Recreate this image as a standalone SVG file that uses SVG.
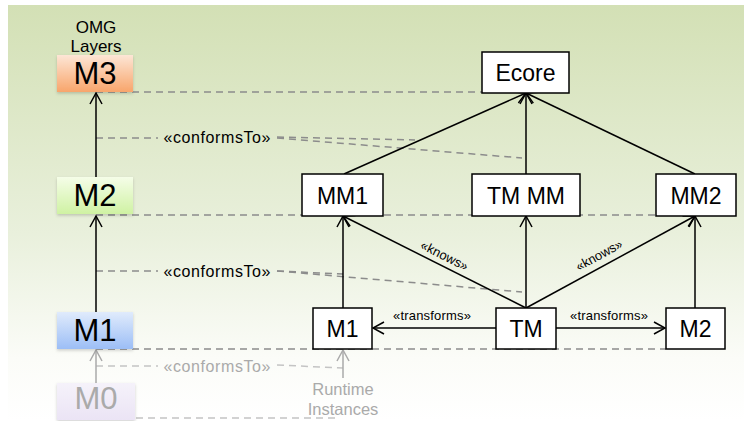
<svg xmlns="http://www.w3.org/2000/svg" width="744" height="421" viewBox="0 0 744 421">
  <defs>
    <linearGradient id="bg" x1="0" y1="0" x2="0" y2="1">
      <stop offset="0" stop-color="#d3e0b5"/>
      <stop offset="0.55" stop-color="#e9f0dc"/>
      <stop offset="0.85" stop-color="#fbfcf8"/>
      <stop offset="1" stop-color="#ffffff"/>
    </linearGradient>
    <linearGradient id="gM3" x1="0" y1="0" x2="0" y2="1">
      <stop offset="0" stop-color="#fde6d6"/>
      <stop offset="1" stop-color="#f8a56b"/>
    </linearGradient>
    <linearGradient id="gM2" x1="0" y1="0" x2="0" y2="1">
      <stop offset="0" stop-color="#f5fde8"/>
      <stop offset="1" stop-color="#cff2a3"/>
    </linearGradient>
    <linearGradient id="gM1" x1="0" y1="0" x2="0" y2="1">
      <stop offset="0" stop-color="#e0ebfc"/>
      <stop offset="1" stop-color="#9cbef6"/>
    </linearGradient>
    <linearGradient id="gM0" x1="0" y1="0" x2="0" y2="1">
      <stop offset="0" stop-color="#f5f2fa"/>
      <stop offset="1" stop-color="#ebe4f5"/>
    </linearGradient>
    <filter id="shadow" x="-20%" y="-20%" width="140%" height="150%">
      <feDropShadow dx="0" dy="1.5" stdDeviation="1.5" flood-color="#000" flood-opacity="0.18"/>
    </filter>
    <marker id="open" markerWidth="14" markerHeight="14" refX="12" refY="7" orient="auto" markerUnits="userSpaceOnUse">
      <path d="M1,1 L12,7 L1,13" fill="none" stroke="#000" stroke-width="1.5"/>
    </marker>
    <marker id="openGrey" markerWidth="14" markerHeight="14" refX="12" refY="7" orient="auto" markerUnits="userSpaceOnUse">
      <path d="M1,1 L12,7 L1,13" fill="none" stroke="#aaaaaa" stroke-width="1.5"/>
    </marker>
  </defs>
  <style>
    text { font-family: "Liberation Sans", Arial, sans-serif; fill: #000; }
    .node rect { fill: #fff; stroke: #000; stroke-width: 1.5; }
    .node text { font-size: 23px; text-anchor: middle; }
    .layer rect { stroke: none; filter: url(#shadow); }
    .layer text { font-size: 31px; text-anchor: middle; }
    .edge { stroke: #000; stroke-width: 1.5; fill: none; marker-end: url(#open); }
    .edgeGrey { stroke: #aaaaaa; stroke-width: 1.5; fill: none; marker-end: url(#openGrey); }
    .dash { stroke: #8c8c8c; stroke-width: 1.5; stroke-dasharray: 7 5; fill: none; }
    .dashGrey { stroke: #c4c4c4; stroke-width: 1.5; stroke-dasharray: 7 5; fill: none; }
    .stereo { font-size: 16px; text-anchor: middle; }
    .small { font-size: 13px; text-anchor: middle; }
    .grey { fill: #aaaaaa; }
  </style>

  <!-- backdrop -->
  <rect x="8" y="5" width="736" height="416" fill="url(#bg)"/>

  <!-- connectors -->
  <g id="connectors">
    <!-- level separators -->
    <line class="dash" x1="96" y1="92" x2="482" y2="92"/>
    <line class="dash" x1="96" y1="215" x2="656" y2="215"/>
    <line class="dash" x1="96" y1="349" x2="666" y2="349"/>
    <line class="dashGrey" x1="100" y1="418" x2="340" y2="418"/>

    <!-- conformsTo between layers -->
    <line class="dash" x1="96" y1="138" x2="158" y2="138"/>
    <line class="dash" x1="277" y1="137" x2="415" y2="140"/>
    <line class="dash" x1="277" y1="138" x2="522" y2="158"/>
    <line class="dash" x1="96" y1="271" x2="158" y2="271"/>
    <line class="dash" x1="277" y1="271" x2="343" y2="274"/>
    <line class="dash" x1="277" y1="271" x2="522" y2="292"/>
    <line class="dashGrey" x1="96" y1="366" x2="158" y2="366"/>
    <line class="dashGrey" x1="277" y1="365" x2="343" y2="368"/>

    <!-- layer hierarchy -->
    <line class="edge" x1="96" y1="177" x2="96" y2="93"/>
    <line class="edge" x1="96" y1="312" x2="96" y2="216"/>
    <line class="edgeGrey" x1="96" y1="383" x2="96" y2="350"/>
    <line class="edgeGrey" x1="343" y1="378" x2="343" y2="350"/>

    <!-- metamodels conform to Ecore -->
    <line class="edge" x1="344" y1="174" x2="526" y2="93"/>
    <line class="edge" x1="526" y1="174" x2="526" y2="93"/>
    <line class="edge" x1="695" y1="174" x2="526" y2="93"/>

    <!-- models conform to metamodels -->
    <line class="edge" x1="343" y1="308" x2="343" y2="216"/>
    <line class="edge" x1="526" y1="308" x2="526" y2="216"/>
    <line class="edge" x1="695" y1="308" x2="695" y2="216"/>

    <!-- transformation knows metamodels -->
    <line class="edge" x1="526" y1="308" x2="343" y2="216"/>
    <line class="edge" x1="526" y1="308" x2="695" y2="216"/>

    <!-- transforms -->
    <line class="edge" x1="496" y1="328" x2="373" y2="328"/>
    <line class="edge" x1="556" y1="328" x2="665" y2="328"/>

    <!-- connector labels -->
    <text class="stereo" x="217" y="143" textLength="107" lengthAdjust="spacing">«conformsTo»</text>
    <text class="stereo" x="217" y="277" textLength="107" lengthAdjust="spacing">«conformsTo»</text>
    <text class="stereo grey" x="217" y="372" textLength="107" lengthAdjust="spacing">«conformsTo»</text>
    <text class="small" x="432" y="320" textLength="78" lengthAdjust="spacing">«transforms»</text>
    <text class="small" x="609" y="320" textLength="78" lengthAdjust="spacing">«transforms»</text>
    <text class="small" transform="translate(444.5,255.5) rotate(26.7)" x="0" y="4.5">«knows»</text>
    <text class="small" transform="translate(599,255) rotate(-28.6)" x="0" y="4.5">«knows»</text>
  </g>

  <!-- OMG layer column -->
  <g id="omg-title">
    <text x="96" y="33" font-size="17" text-anchor="middle">OMG</text>
    <text x="96" y="52" font-size="17" text-anchor="middle">Layers</text>
  </g>
  <g id="layer-M3" class="layer">
    <rect x="57" y="55" width="76" height="37" fill="url(#gM3)"/>
    <text x="95" y="84">M3</text>
  </g>
  <g id="layer-M2" class="layer">
    <rect x="57" y="177" width="76" height="37" fill="url(#gM2)"/>
    <text x="95" y="206">M2</text>
  </g>
  <g id="layer-M1" class="layer">
    <rect x="57" y="312" width="76" height="37" fill="url(#gM1)"/>
    <text x="95" y="341">M1</text>
  </g>
  <g id="layer-M0" class="layer">
    <rect x="57" y="383" width="78" height="37" fill="url(#gM0)"/>
    <text x="96" y="409" class="grey">M0</text>
  </g>

  <!-- model nodes -->
  <g id="ecore" class="node">
    <rect x="482" y="52" width="87" height="41"/>
    <text x="525.5" y="81">Ecore</text>
  </g>
  <g id="mm1" class="node">
    <rect x="302" y="174" width="81" height="42"/>
    <text x="342.5" y="203.5">MM1</text>
  </g>
  <g id="tm-mm" class="node">
    <rect x="472" y="174" width="108" height="42"/>
    <text x="526" y="203.5">TM MM</text>
  </g>
  <g id="mm2" class="node">
    <rect x="656" y="174" width="80" height="42"/>
    <text x="696" y="203.5">MM2</text>
  </g>
  <g id="m1" class="node">
    <rect x="313" y="308" width="59" height="41"/>
    <text x="342.5" y="337">M1</text>
  </g>
  <g id="tm" class="node">
    <rect x="496" y="308" width="60" height="41"/>
    <text x="526" y="337">TM</text>
  </g>
  <g id="m2" class="node">
    <rect x="666" y="308" width="59" height="41"/>
    <text x="695.5" y="337">M2</text>
  </g>
  <g id="runtime-instances">
    <text x="343" y="395" font-size="16.5" text-anchor="middle" class="grey">Runtime</text>
    <text x="343" y="415" font-size="16.5" text-anchor="middle" class="grey">Instances</text>
  </g>
</svg>
